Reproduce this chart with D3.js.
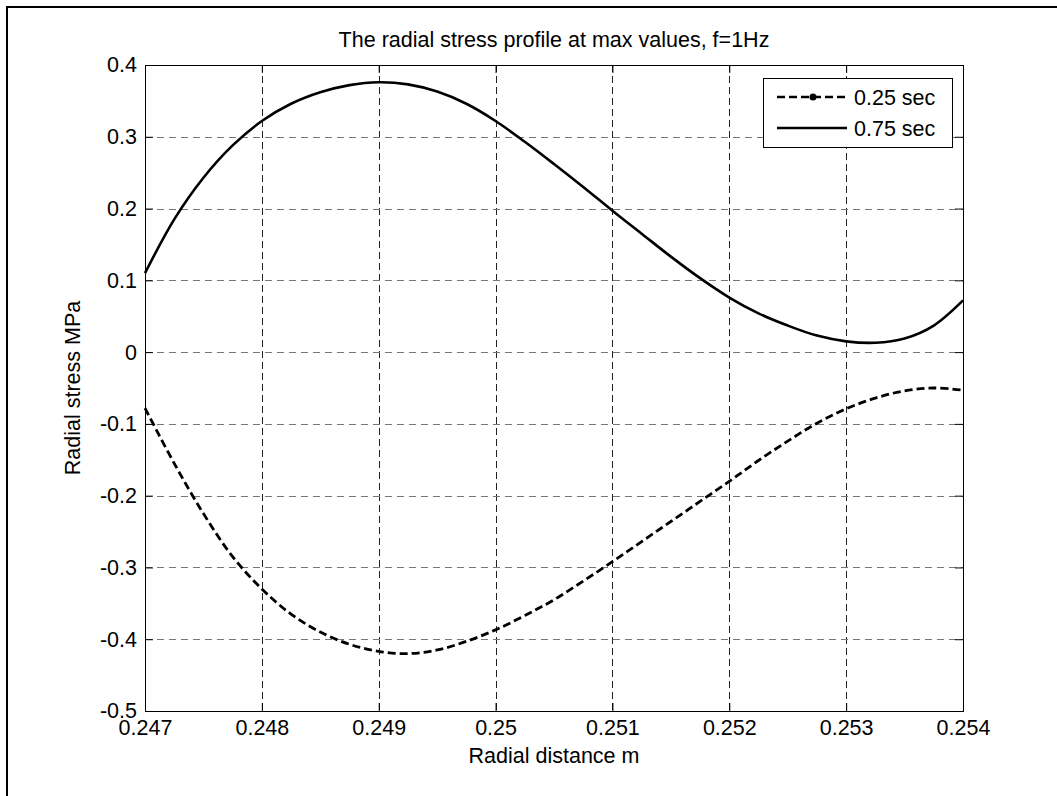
<!DOCTYPE html>
<html>
<head>
<meta charset="utf-8">
<script src="https://cdn.jsdelivr.net/npm/d3@7"></script>
<style>
  body { margin: 0; background: #fff; }
  svg { display: block; font-family: Arial, "Liberation Sans", sans-serif; }
</style>
</head>
<body>
<svg width="1057" height="796"></svg>
<script>
// radial distance (m) and stress (MPa)
const radius = [0.247, 0.24725, 0.2475, 0.24775, 0.248, 0.24825, 0.2485, 0.24875, 0.249, 0.24925,
  0.2495, 0.24975, 0.25, 0.25025, 0.2505, 0.25075, 0.251, 0.25125, 0.2515, 0.25175,
  0.252, 0.25225, 0.2525, 0.25275, 0.253, 0.25325, 0.2535, 0.25375, 0.254];

const stress25 = [-0.078, -0.155, -0.225, -0.285, -0.33, -0.365, -0.39, -0.407, -0.417, -0.42,
  -0.415, -0.403, -0.387, -0.367, -0.345, -0.319, -0.292, -0.264, -0.236, -0.208,
  -0.18, -0.151, -0.124, -0.099, -0.079, -0.064, -0.054, -0.05, -0.053];

const stress75 = [0.11, 0.185, 0.243, 0.288, 0.322, 0.346, 0.362, 0.372, 0.376, 0.373,
  0.363, 0.346, 0.322, 0.293, 0.262, 0.23, 0.197, 0.165, 0.133, 0.103,
  0.076, 0.054, 0.037, 0.023, 0.015, 0.013, 0.019, 0.037, 0.072];

const xTicks = [0.247, 0.248, 0.249, 0.25, 0.251, 0.252, 0.253, 0.254];
const yTicks = [-0.5, -0.4, -0.3, -0.2, -0.1, 0, 0.1, 0.2, 0.3, 0.4];
const legendNames = ["0.25 sec", "0.75 sec"];

let svg = d3.select("svg");

let pLeft = 145, pRight = 963, pTop = 65, pBottom = 711;
let fontSize = "21.5px";

let x = d3.scaleLinear().domain([0.247, 0.254]).range([pLeft, pRight]);
let y = d3.scaleLinear().domain([-0.5, 0.4]).range([pBottom, pTop]);

// plain hyphen minus, like the original figure
let fmt = d => String(d);

// outer figure frame (only top and left show in the picture)
svg.append("rect")
  .attr("x", 7).attr("y", 7)
  .attr("width", 1100).attr("height", 900)
  .attr("fill", "none").attr("stroke", "#000").attr("stroke-width", 2);

// grid
svg.append("g")
  .selectAll("line")
  .data(xTicks.slice(1, -1))
  .enter()
  .append("line")
  .attr("x1", d => Math.round(x(d)) + 0.5)
  .attr("x2", d => Math.round(x(d)) + 0.5)
  .attr("y1", pTop).attr("y2", pBottom)
  .attr("stroke", "#222").attr("stroke-dasharray", "7,4");

svg.append("g")
  .selectAll("line")
  .data(yTicks.slice(1, -1))
  .enter()
  .append("line")
  .attr("y1", d => Math.round(y(d)) + 0.5)
  .attr("y2", d => Math.round(y(d)) + 0.5)
  .attr("x1", pLeft).attr("x2", pRight)
  .attr("stroke", "#777").attr("stroke-dasharray", "7,5");

// axes with inner ticks on all four sides
svg.append("g")
  .attr("transform", "translate(0," + pBottom + ")")
  .call(d3.axisBottom(x).tickValues(xTicks).tickSize(-8).tickPadding(9).tickFormat(fmt))
  .call(g => g.select(".domain").remove());
svg.append("g")
  .attr("transform", "translate(0," + pTop + ")")
  .call(d3.axisTop(x).tickValues(xTicks).tickSize(-8).tickFormat(""))
  .call(g => g.select(".domain").remove());
svg.append("g")
  .attr("transform", "translate(" + pLeft + ",0)")
  .call(d3.axisLeft(y).tickValues(yTicks).tickSize(-8).tickPadding(8).tickFormat(fmt))
  .call(g => g.select(".domain").remove());
svg.append("g")
  .attr("transform", "translate(" + pRight + ",0)")
  .call(d3.axisRight(y).tickValues(yTicks).tickSize(-8).tickFormat(""))
  .call(g => g.select(".domain").remove());

svg.selectAll(".tick text")
  .attr("fill", "#000")
  .style("font-size", fontSize)
  .style("font-family", "Arial, 'Liberation Sans', sans-serif");
svg.selectAll(".tick line").attr("stroke", "#000");

svg.append("rect")
  .attr("x", pLeft + 0.5).attr("y", pTop + 0.5)
  .attr("width", pRight - pLeft).attr("height", pBottom - pTop)
  .attr("fill", "none").attr("stroke", "#000").attr("stroke-width", 1);

// curves
let line = d3.line()
  .x(d => x(d[0]))
  .y(d => y(d[1]))
  .curve(d3.curveCatmullRom.alpha(0.5));

svg.append("path")
  .datum(d3.zip(radius, stress25))
  .attr("d", line)
  .attr("fill", "none").attr("stroke", "#000")
  .attr("stroke-width", 2.8).attr("stroke-dasharray", "8,4");

svg.append("path")
  .datum(d3.zip(radius, stress75))
  .attr("d", line)
  .attr("fill", "none").attr("stroke", "#000")
  .attr("stroke-width", 2.6);

// title and labels
svg.append("text")
  .attr("x", 554).attr("y", 47)
  .attr("text-anchor", "middle")
  .style("font-size", fontSize)
  .text("The radial stress profile at max values, f=1Hz");

svg.append("text")
  .attr("x", 554).attr("y", 763)
  .attr("text-anchor", "middle")
  .style("font-size", fontSize)
  .text("Radial distance m");

svg.append("text")
  .attr("transform", "translate(80," + (pTop + pBottom) / 2 + ") rotate(-90)")
  .attr("text-anchor", "middle")
  .style("font-size", fontSize)
  .text("Radial stress MPa");

// legend
let legend = svg.append("g");
legend.append("rect")
  .attr("x", 763.5).attr("y", 78.5)
  .attr("width", 189).attr("height", 69)
  .attr("fill", "#fff").attr("stroke", "#000");

legendNames.forEach(function (name, i) {
  let ly = 97 + i * 31;
  legend.append("line")
    .attr("x1", 777).attr("x2", 847)
    .attr("y1", ly).attr("y2", ly)
    .attr("stroke", "#000").attr("stroke-width", 2.6)
    .attr("stroke-dasharray", i === 0 ? "8,4" : null);
  if (i === 0) {
    legend.append("circle")
      .attr("cx", 813).attr("cy", ly).attr("r", 3.5)
      .attr("fill", "#000");
  }
  legend.append("text")
    .attr("x", 854).attr("y", ly + 7.5)
    .style("font-size", fontSize)
    .text(name);
});
</script>
</body>
</html>
